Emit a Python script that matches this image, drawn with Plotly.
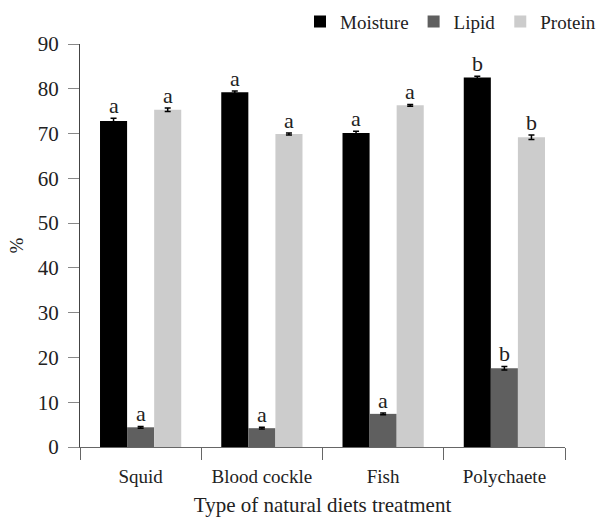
import plotly.graph_objects as go

categories = ["Squid", "Blood cockle", "Fish", "Polychaete"]
series_names = ["Moisture", "Lipid", "Protein"]
moisture = [72.8, 79.2, 70.1, 82.5]
lipid = [4.4, 4.2, 7.4, 17.6]
protein = [75.3, 69.9, 76.3, 69.2]
moisture_err = [0.6, 0.3, 0.4, 0.3]
lipid_err = [0.2, 0.2, 0.2, 0.4]
protein_err = [0.4, 0.2, 0.2, 0.5]
moisture_sig = ["a", "a", "a", "b"]
lipid_sig = ["a", "a", "a", "b"]
protein_sig = ["a", "a", "a", "b"]
y_ticks = [0, 10, 20, 30, 40, 50, 60, 70, 80, 90]

colors = ["#000000", "#5f5f5f", "#cccccc"]
values = [moisture, lipid, protein]
errors = [moisture_err, lipid_err, protein_err]
sigs = [moisture_sig, lipid_sig, protein_sig]

FONT = "Liberation Serif"
TXT = "#222222"
bargap = 0.33

fig = go.Figure()
for name, vals, errs, col in zip(series_names, values, errors, colors):
    fig.add_trace(go.Bar(
        name=name, x=categories, y=vals, marker=dict(color=col, line=dict(width=0)),
        error_y=dict(type="data", array=errs, visible=True, color="#000000", thickness=1.5, width=3),
    ))

bw = (1 - bargap) / len(series_names)
annotations = []
for k, (vals, errs, sg) in enumerate(zip(values, errors, sigs)):
    off = (k - (len(series_names) - 1) / 2) * bw
    for i, (v, e, s) in enumerate(zip(vals, errs, sg)):
        annotations.append(dict(
            x=i + off, y=v + e, xref="x", yref="y", text=s, showarrow=False,
            yanchor="bottom", yshift=-2, font=dict(family=FONT, size=22, color=TXT),
        ))

fig.update_layout(
    width=601, height=517,
    margin=dict(l=80, r=36, t=44, b=70, autoexpand=False),
    paper_bgcolor="white", plot_bgcolor="white",
    barmode="group", bargap=bargap, bargroupgap=0,
    font=dict(family=FONT, size=19, color=TXT),
    annotations=annotations,
    showlegend=True,
    legend=dict(orientation="h", xref="container", yref="container",
                x=1.0, xanchor="right", y=0.995, yanchor="top",
                font=dict(family=FONT, size=19, color=TXT),
                itemwidth=30, tracegroupgap=0),
    xaxis=dict(
        type="category", showline=True, linecolor="#666", linewidth=1.2,
        ticks="outside", tickson="boundaries", ticklen=12, tickcolor="#666", tickwidth=1.2,
        tickfont=dict(family=FONT, size=19, color=TXT), ticklabelstandoff=12,
        title=dict(text="Type of natural diets treatment", font=dict(family=FONT, size=21, color=TXT), standoff=15),
        showgrid=False, range=[-0.5, 3.5],
    ),
    yaxis=dict(
        range=[0, 90], tickvals=y_ticks, showline=True, linecolor="#444", linewidth=1.2,
        ticks="outside", ticklen=11, tickcolor="#888", tickwidth=1.2,
        tickfont=dict(family=FONT, size=21, color=TXT), ticklabelstandoff=5,
        title=dict(text="%", font=dict(family=FONT, size=19, color=TXT), standoff=9),
        showgrid=False, zeroline=False,
    ),
)

fig.write_html("out.html", config={"displayModeBar": False},
               post_script="document.body.style.margin='0';document.body.style.overflow='hidden';")
